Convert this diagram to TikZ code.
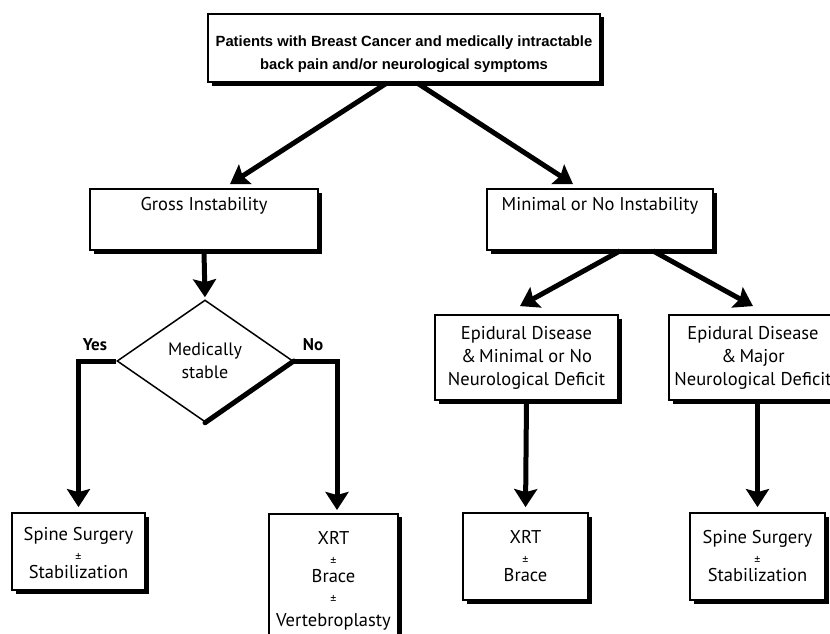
\documentclass[tikz,border=0pt]{standalone}
\usepackage{fontspec}
\setmainfont{PT Sans}
\newfontfamily\topfont{Liberation Sans}
\usetikzlibrary{shapes.geometric,shadows,arrows.meta,calc}
\newcommand{\pmsign}{{\fontsize{12}{12}\selectfont ±}}
\begin{document}
\begin{tikzpicture}[x=1pt,y=-1pt,
  box/.style={draw=black,line width=1.8pt,fill=white,inner sep=2pt,align=center,
    drop shadow={shadow xshift=3.5pt,shadow yshift=-3.5pt,fill=black,opacity=1},
    font=\fontsize{18.5}{23}\selectfont},
  txt/.style={align=center,font=\fontsize{18.5}{22}\selectfont},
  conn/.style={line width=5pt,-{Stealth[length=18pt,width=23pt,inset=3pt]}},
  lbl/.style={font=\bfseries\fontsize{17}{19}\selectfont}]
\useasboundingbox (0,0) rectangle (830,634);
\clip (0,0) rectangle (830,634);
% boxes
\node[box,minimum width=392pt,minimum height=68pt] (top) at (404,48) {};
\node[align=center,font=\topfont\bfseries\fontsize{14.8}{23}\selectfont] (topt) at (404,54)
  {Patients with Breast Cancer and medically intractable\\back pain and/or neurological symptoms};
\node[box,minimum width=228pt,minimum height=61pt] (gross) at (204,219.5) {};
\node[txt] (grosst) at (204,206) {Gross Instability};
\node[box,minimum width=226pt,minimum height=61pt] (minimal) at (600,219.5) {};
\node[txt] (minimalt) at (600,206) {Minimal or No Instability};
\node[draw=black,line width=1.5pt,diamond,minimum width=176pt,minimum height=122pt,inner sep=0pt,align=center,
  font=\fontsize{18}{23}\selectfont] (dia) at (205,361) {Medically\\stable};
\draw[line width=5pt,line cap=round] (dia.east) -- (dia.south);
\node[lbl] (yes) at (95,345) {Yes};
\node[lbl] (no) at (313,345) {No};
\node[box,minimum width=183pt,minimum height=85pt] (epi1) at (526.5,357.5)
  {Epidural Disease\\\&\,Minimal or No\\Neurological Deficit};
\node[box,minimum width=168pt,minimum height=85pt] (epi2) at (753,357.5)
  {Epidural Disease\\\&\,Major\\Neurological Deficit};
\node[box,minimum width=133pt,minimum height=77pt] (spine1) at (78.5,551.5) {};
\node[txt,anchor=north] (spine1t) at (78.5,524)
  {Spine Surgery\\[-1pt]\pmsign\\[-5pt]Stabilization};
\node[box,minimum width=129pt,minimum height=135pt,anchor=north] (xrt1) at (333.5,513) {};
\node[txt,anchor=north] (xrt1t) at (333.5,528)
  {XRT\\[-1pt]\pmsign\\[-5pt]Brace\\[-1pt]\pmsign\\[1pt]Vertebroplasty};
\node[box,minimum width=125pt,minimum height=87pt] (xrt2) at (525.5,556.5) {};
\node[txt,anchor=north] (xrt2t) at (525.5,527)
  {XRT\\[-1pt]\pmsign\\[-5pt]Brace};
\node[box,minimum width=135pt,minimum height=87pt] (spine2) at (757.5,556.5) {};
\node[txt,anchor=north] (spine2t) at (757.5,527)
  {Spine Surgery\\[-1pt]\pmsign\\[-5pt]Stabilization};
% connectors
\draw[conn] ([xshift=-17pt]top.south) -- ($(gross.north)+(26,-4)$);
\draw[conn] ([xshift=13pt]top.south) -- ($(minimal.north)+(-27,-4)$);
\draw[conn,shorten >=2pt] (gross.south) -- (dia.north);
\draw[conn,shorten >=5pt] (dia.west) -| (spine1.north);
\draw[conn,shorten >=3pt] (dia.east) -| ([xshift=3.5pt]xrt1.north);
\draw[conn] ([xshift=20pt]minimal.south) -- ($(epi1.north)+(-6.5,-8)$);
\draw[conn] ([xshift=53pt]minimal.south) -- ($(epi2.north)+(0,-8)$);
\draw[conn,shorten >=5pt] (epi1.south) -- (xrt2.north);
\draw[conn,shorten >=5pt] (epi2.south -| spine2.north) -- (spine2.north);
\end{tikzpicture}
\end{document}
